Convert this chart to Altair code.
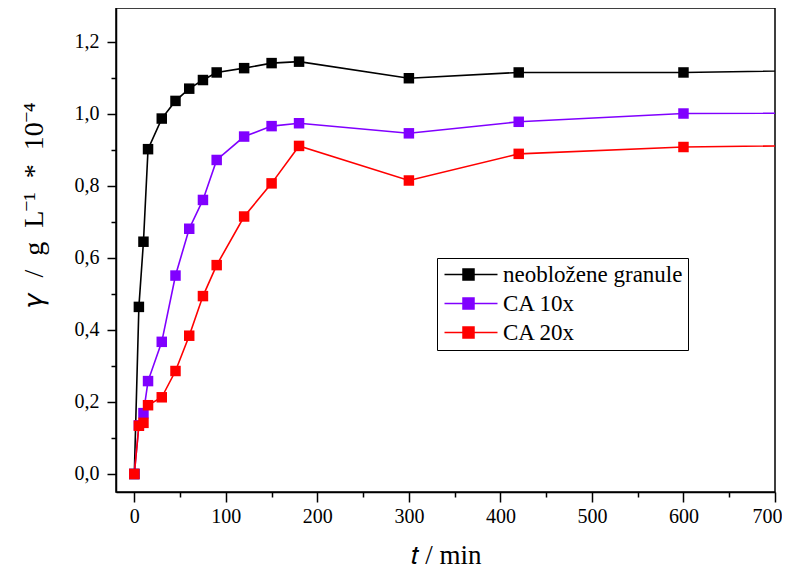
import altair as alt
import pandas as pd

times = [0, 5, 10, 15, 30, 45, 60, 75, 90, 120, 150, 180, 300, 420, 600, 1440]
uncoated = [0.0, 0.464, 0.645, 0.902, 0.987, 1.036, 1.070, 1.094, 1.115, 1.127, 1.141, 1.145, 1.099, 1.115, 1.115, 1.149]
ca10 = [0.0, 0.135, 0.169, 0.258, 0.367, 0.551, 0.681, 0.761, 0.872, 0.937, 0.966, 0.974, 0.946, 0.978, 1.001, 1.010]
ca20 = [0.0, 0.134, 0.142, 0.191, 0.213, 0.286, 0.384, 0.494, 0.580, 0.715, 0.807, 0.911, 0.815, 0.889, 0.908, 0.933]

series_names = ["neobložene granule", "CA 10x", "CA 20x"]
series_colors = ["#000000", "#8000ff", "#ff0000"]

x_ticks = list(range(0, 701, 50))
y_ticks = [round(i * 0.1, 1) for i in range(13)]

rows = []
for name, vals in zip(series_names, [uncoated, ca10, ca20]):
    for t, v in zip(times, vals):
        rows.append({"t": t, "c": v, "series": name})
df = pd.DataFrame(rows)

FONT = "Liberation Serif"
legend_path = "M-1.8,0 L8.8,0 M1.9,-1.1 L4.1,-1.1 L4.1,1.1 L1.9,1.1 Z"

color = alt.Color(
    "series:N",
    scale=alt.Scale(domain=series_names, range=series_colors),
    sort=series_names,
    legend=alt.Legend(
        title=None,
        orient="none",
        legendX=321,
        legendY=250,
        strokeColor="black",
        fillColor="white",
        padding=5,
        labelFont=FONT,
        labelFontSize=23,
        labelColor="black",
        labelLimit=400,
        labelOffset=38,
        rowPadding=5,
        symbolType=legend_path,
        symbolSize=100,
        symbolStrokeWidth=1.5,
    ),
)

xenc = alt.X(
    "t:Q",
    scale=alt.Scale(domain=[-20, 700], nice=False, zero=False),
    axis=alt.Axis(
        title="𝑡 / min",
        values=x_ticks,
        labelExpr="datum.value % 100 == 0 ? datum.label : ''",
        tickSize={"condition": {"test": "datum.value % 100 == 0", "value": 10}, "value": 5},
        labelPadding=4,
        labelFlush=True,
        labelFlushOffset=7,
        labelFont=FONT,
        labelFontSize=20,
        titleFont=FONT,
        titleFontSize=27,
        titleY=71,
        titleBaseline="alphabetic",
    ),
)
yenc = alt.Y(
    "c:Q",
    scale=alt.Scale(domain=[-0.05, 1.294], nice=False, zero=False),
    axis=alt.Axis(
        title="𝛾\u2002/\u2002g\u2002L⁻¹\u2002*\u200210⁻⁴",
        values=y_ticks,
        labelExpr="round(datum.value*10) % 2 == 0 ? replace(format(datum.value, '.1f'), '.', ',') : ''",
        tickSize={"condition": {"test": "round(datum.value*10) % 2 == 0", "value": 9}, "value": 5},
        labelPadding=8,
        labelFlush=False,
        labelFont=FONT,
        labelFontSize=20,
        minExtent=108,
        maxExtent=108,
        titleFont=FONT,
        titleFontSize=28,
        titleX=-74,
        titleY=196,
        titleAngle=-90,
        titleAlign="center",
        titleBaseline="alphabetic",
    ),
)

chart = (
    alt.Chart(df)
    .mark_line(
        clip=True,
        strokeWidth=1.6,
        point=alt.OverlayMarkDef(shape="square", filled=True, size=110, opacity=1),
    )
    .encode(x=xenc, y=yenc, color=color, order="t:Q")
    .properties(width=659, height=484, padding={"left": 0, "top": 0, "right": 0, "bottom": 0})
    .configure_view(stroke="black", strokeWidth=1.5)
    .configure_axis(
        grid=False,
        domainColor="black",
        domainWidth=1.5,
        tickColor="black",
        tickWidth=1.5,
        labelFont=FONT,
        labelFontSize=20,
        labelColor="black",
        titleFont=FONT,
        titleFontSize=26,
        titleFontWeight="normal",
        titleColor="black",
    )
)

chart.save("out.html", embed_options={"renderer": "svg", "actions": False})
